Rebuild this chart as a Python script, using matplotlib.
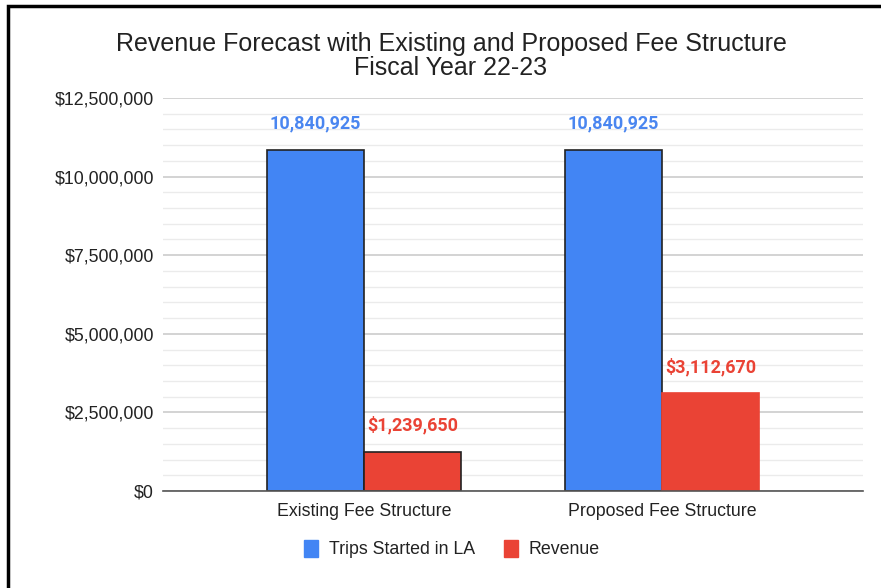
import matplotlib.pyplot as plt
from matplotlib.patches import Rectangle, Patch
from matplotlib.ticker import FuncFormatter, MultipleLocator
import numpy as np

# chart values
categories = ['Existing Fee Structure', 'Proposed Fee Structure']
trips = [10840925, 10840925]
revenue = [1239650, 3112670]
series_names = ['Trips Started in LA', 'Revenue']

blue = '#4285F4'
red = '#EA4335'
blue_lbl = '#4A86F0'
red_lbl = '#EA4335'

plt.rcParams['font.family'] = ['Liberation Sans', 'DejaVu Sans']

fig = plt.figure(figsize=(8.81, 5.88), dpi=100)
ax = fig.add_axes([163 / 881, 1 - 491 / 588, 700 / 881, 393 / 588])

x = np.arange(len(categories))
w = 0.325
b1 = ax.bar(x - w / 2, trips, w, color=blue, edgecolor='#222222', linewidth=1.2, zorder=3)
b2 = ax.bar(x + w / 2, revenue, w, color=red, edgecolor=['#222222', red], linewidth=1.2, zorder=3)

# value labels above bars
for rect, v in zip(b1, trips):
    ax.annotate(f'{v:,}', (rect.get_x() + rect.get_width() / 2, v), xytext=(0, 19),
                textcoords='offset points', ha='center', va='center',
                fontsize=13, fontweight='bold', color=blue_lbl, family=['Roboto', 'DejaVu Sans'])
for rect, v in zip(b2, revenue):
    ax.annotate(f'${v:,}', (rect.get_x() + rect.get_width() / 2, v), xytext=(0, 19),
                textcoords='offset points', ha='center', va='center',
                fontsize=13, fontweight='bold', color=red_lbl, family=['Roboto', 'DejaVu Sans'])

ax.set_xlim(-0.674, 1.674)
ax.set_ylim(0, 12500000)
ax.yaxis.set_major_locator(MultipleLocator(2500000))
ax.yaxis.set_minor_locator(MultipleLocator(500000))
ax.yaxis.set_major_formatter(FuncFormatter(lambda v, p: f'${v:,.0f}'))
ax.grid(axis='y', which='major', color='#cccccc', linewidth=1.2, zorder=0)
ax.grid(axis='y', which='minor', color='#ebebeb', linewidth=1.0, zorder=0)
ax.set_axisbelow(True)

for s in ['top', 'right', 'left']:
    ax.spines[s].set_visible(False)
ax.spines['bottom'].set_color('#555555')
ax.spines['bottom'].set_linewidth(1.2)
ax.spines['bottom'].set_zorder(4)

ax.set_xticks(x)
ax.set_xticklabels(categories)
ax.tick_params(axis='both', which='both', length=0, labelsize=12.8, labelcolor='#222222')
ax.tick_params(axis='y', pad=6.5)
ax.tick_params(axis='x', pad=9)

fig.text(451 / 881, 1 - 56 / 588,
         'Revenue Forecast with Existing and Proposed Fee Structure\nFiscal Year 22-23',
         ha='center', va='center', fontsize=18, color='#222222', linespacing=0.95)

handles = [Patch(facecolor=blue, edgecolor=blue), Patch(facecolor=red, edgecolor=red)]
fig.legend(handles, series_names, loc='center', bbox_to_anchor=(452 / 881, 1 - 549 / 588),
           ncol=2, frameon=False, fontsize=12.8, handlelength=0.8, handleheight=1.1,
           handletextpad=0.6, columnspacing=1.6, labelcolor='#222222')

# outer border of the screenshot
fig.patches.append(Rectangle((8 / 881, -0.05), 1.1, 1 - 6 / 588 + 0.05, transform=fig.transFigure,
                             fill=False, edgecolor='black', linewidth=2.5, zorder=10))

fig.savefig('out.png', dpi=100)
